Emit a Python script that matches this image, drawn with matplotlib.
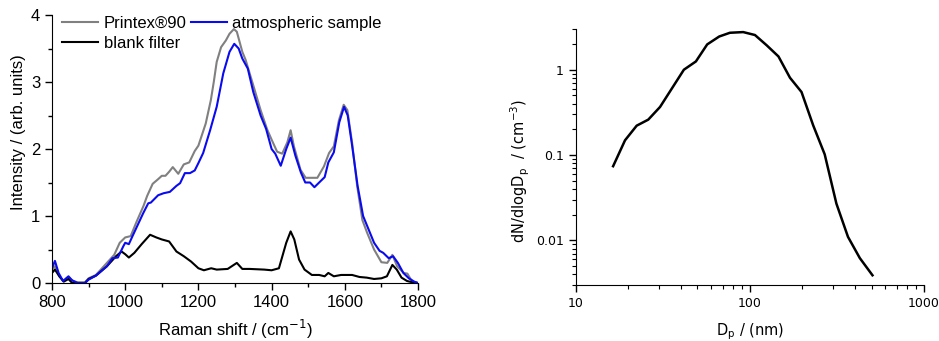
import matplotlib
matplotlib.use("Agg")
import matplotlib.pyplot as plt
import matplotlib.ticker as mt

# ---- Raman spectra (left) ----
printex_x = [800, 808, 820, 832, 845, 858, 870, 890, 900, 920, 950, 970, 985, 1000, 1015, 1030,
             1050, 1060, 1075, 1090, 1100, 1110, 1120, 1130, 1145, 1160, 1175, 1190, 1200, 1220,
             1234, 1242, 1250, 1262, 1275, 1285, 1297, 1305, 1320, 1329, 1351, 1370, 1388, 1400,
             1415, 1429, 1443, 1452, 1461, 1479, 1493, 1506, 1525, 1543, 1557, 1570, 1584, 1597,
             1607, 1620, 1634, 1648, 1661, 1680, 1700, 1716, 1730, 1743, 1761, 1771, 1784, 1798]
printex_y = [0.20, 0.25, 0.10, 0.03, 0.08, 0.03, 0.01, 0.01, 0.07, 0.12, 0.30, 0.42, 0.60, 0.68, 0.70, 0.90,
             1.15, 1.30, 1.48, 1.55, 1.60, 1.60, 1.66, 1.73, 1.63, 1.77, 1.80, 1.97, 2.05, 2.38,
             2.73, 3.00, 3.30, 3.52, 3.62, 3.72, 3.79, 3.75, 3.45, 3.33, 2.93, 2.58, 2.29, 2.14,
             1.96, 1.93, 2.10, 2.28, 2.04, 1.69, 1.57, 1.57, 1.57, 1.74, 1.94, 2.04, 2.43, 2.66,
             2.58, 2.09, 1.44, 0.94, 0.75, 0.50, 0.31, 0.30, 0.42, 0.25, 0.15, 0.14, 0.02, 0.00]

atmos_x = [800, 808, 818, 830, 845, 855, 870, 890, 900, 920, 950, 965, 980, 995, 1000, 1010, 1020,
           1049, 1063, 1070, 1090, 1105, 1122, 1140, 1150, 1163, 1177, 1190, 1200, 1213, 1232, 1250,
           1268, 1285, 1298, 1310, 1320, 1335, 1350, 1370, 1385, 1400, 1410, 1425, 1440, 1452,
           1465, 1480, 1492, 1505, 1517, 1530, 1545, 1555, 1570, 1585, 1598, 1608, 1620, 1635,
           1650, 1665, 1680, 1695, 1705, 1720, 1732, 1745, 1760, 1775, 1790, 1800]
atmos_y = [0.22, 0.33, 0.15, 0.03, 0.10, 0.04, 0.00, 0.00, 0.05, 0.11, 0.25, 0.37, 0.38, 0.55, 0.60, 0.58, 0.70,
           1.04, 1.19, 1.20, 1.31, 1.34, 1.36, 1.45, 1.49, 1.64, 1.64, 1.68, 1.79, 1.94, 2.28, 2.63,
           3.13, 3.45, 3.57, 3.50, 3.35, 3.20, 2.85, 2.50, 2.30, 2.00, 1.93, 1.75, 2.00, 2.17,
           1.90, 1.65, 1.50, 1.50, 1.43, 1.50, 1.58, 1.80, 1.95, 2.40, 2.63, 2.50, 2.05, 1.45,
           1.00, 0.80, 0.60, 0.48, 0.45, 0.37, 0.40, 0.30, 0.15, 0.07, 0.02, 0.00]

blank_x = [800, 808, 820, 832, 845, 855, 870, 890, 900, 920, 950, 975, 990, 1000, 1010, 1025, 1045,
           1068, 1085, 1100, 1120, 1140, 1160, 1180, 1200, 1215, 1235, 1250, 1280, 1305, 1320,
           1340, 1380, 1400, 1420, 1440, 1452, 1462, 1475, 1490, 1510, 1530, 1545, 1555, 1570,
           1590, 1620, 1640, 1660, 1680, 1700, 1715, 1730, 1742, 1755, 1770, 1785, 1800]
blank_y = [0.15, 0.20, 0.10, 0.02, 0.06, 0.00, 0.00, 0.00, 0.06, 0.11, 0.25, 0.40, 0.47, 0.43, 0.38, 0.45, 0.58,
           0.72, 0.68, 0.65, 0.62, 0.47, 0.40, 0.32, 0.22, 0.19, 0.22, 0.20, 0.21, 0.30, 0.21,
           0.21, 0.20, 0.19, 0.22, 0.60, 0.77, 0.65, 0.35, 0.20, 0.12, 0.12, 0.10, 0.15, 0.10,
           0.12, 0.12, 0.09, 0.08, 0.06, 0.07, 0.10, 0.27, 0.20, 0.08, 0.03, 0.01, 0.00]

# ---- Size distribution (right) ----
dp = [16.4, 19.2, 22.4, 26.1, 30.5, 41.8, 49.0, 56.9, 66.7, 76.8, 91.6, 107, 125, 146, 170,
      198, 231, 269, 314, 366, 428, 506]
dndlogdp = [0.074, 0.149, 0.221, 0.26, 0.366, 1.0, 1.25, 1.98, 2.45, 2.71, 2.76, 2.55, 1.93, 1.43,
            0.805, 0.548, 0.223, 0.102, 0.027, 0.011, 0.0062, 0.0039]

fig = plt.figure(figsize=(9.39, 3.41), dpi=100)

# Left panel
ax1 = fig.add_axes([52/939, 1-283/341, (418-52)/939, (283-15)/341])
lf = ['Liberation Sans', 'DejaVu Sans']
ax1.plot(printex_x, printex_y, color='#808080', lw=1.5, label='Printex®90')
ax1.plot(blank_x, blank_y, color='black', lw=1.5, label='blank filter')
ax1.plot(atmos_x, atmos_y, color='#0a0af0', lw=1.5, label='atmospheric sample')
ax1.set_xlim(800, 1800)
ax1.set_ylim(0, 4)
ax1.set_xticks([800, 1000, 1200, 1400, 1600, 1800])
ax1.set_yticks([0, 1, 2, 3, 4])
ax1.xaxis.set_minor_locator(mt.MultipleLocator(100))
ax1.yaxis.set_minor_locator(mt.MultipleLocator(0.5))
for s in ['top', 'right']:
    ax1.spines[s].set_visible(False)
ax1.tick_params(which='major', direction='out', length=5, width=1, labelsize=12)
ax1.tick_params(which='minor', direction='out', length=3, width=1)
for lab in ax1.get_xticklabels() + ax1.get_yticklabels():
    lab.set_family(lf)
ax1.set_xlabel('Raman shift / (cm$^{-1}$)', fontsize=12, family=lf, labelpad=6)
ax1.set_ylabel('Intensity / (arb. units)', fontsize=12, family=lf)
ax1.yaxis.set_label_coords(-0.072, 0.563)
leg = ax1.legend(ncol=2, loc='upper left', bbox_to_anchor=(0.0, 1.035), frameon=False,
                 prop={'family': lf, 'size': 12}, handlelength=2.15, handletextpad=0.35,
                 columnspacing=0.25, labelspacing=0.3, borderaxespad=0.2)

# Right panel
ax2 = fig.add_axes([575.7/939, 1-285/341, (924-575.7)/939, (285-29)/341])
ax2.plot(dp, dndlogdp, color='black', lw=1.8)
ax2.set_xscale('log')
ax2.set_yscale('log')
ax2.set_xlim(10, 1000)
ax2.set_ylim(0.003, 3)
ax2.set_xticks([10, 100, 1000])
ax2.set_xticklabels(['10', '100', '1000'])
ax2.set_yticks([0.01, 0.1, 1])
ax2.set_yticklabels(['0.01', '0.1', '1'])
for s in ['top', 'right']:
    ax2.spines[s].set_visible(False)
ax2.tick_params(which='major', direction='out', length=5, width=1, labelsize=9)
ax2.tick_params(which='minor', direction='out', length=3, width=0.8)
ax2.set_xlabel('D$_\\mathrm{p}$ / (nm)', fontsize=10.5, labelpad=8)
ax2.set_ylabel('dN/dlogD$_\\mathrm{p}$  / (cm$^{-3}$)', fontsize=10.5)
ax2.yaxis.set_label_coords(-0.125, 0.445)

fig.savefig('out.png', dpi=100)
